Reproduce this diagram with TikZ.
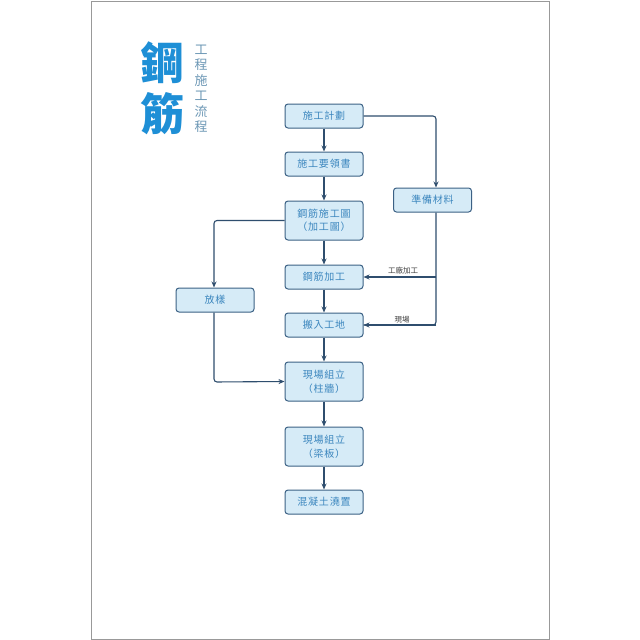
\documentclass[tikz,border=0pt]{standalone}
\usepackage{fontspec}
\setmainfont{Noto Sans CJK TC}
\newfontfamily\cjk{Noto Sans CJK TC}
\newfontfamily\cjkspaced[LetterSpace=8]{Noto Sans CJK TC}
\newfontfamily\cjkbold{Noto Sans CJK TC Black}
\usetikzlibrary{arrows.meta}
\definecolor{boxfill}{HTML}{D6EBF7}
\definecolor{boxline}{HTML}{3C6185}
\definecolor{boxtext}{HTML}{3B86BE}
\definecolor{linec}{HTML}{2F4E6E}
\definecolor{titleblue}{HTML}{1E8FD6}
\definecolor{subblue}{HTML}{6C97B5}
\definecolor{pageline}{HTML}{999999}
\tikzset{
  stepbox/.style={draw=boxline, fill=boxfill, rounded corners=3pt, line width=1pt,
    minimum width=78pt, minimum height=24pt, text=boxtext, font=\cjkspaced\fontsize{10}{13.5}\selectfont,
    align=center, inner sep=1pt},
  tallbox/.style={stepbox, minimum height=39pt},
  conn/.style={draw=linec, line width=1.1pt, -{Stealth[length=6pt,width=5pt]}},
  plain/.style={draw=linec, line width=1.1pt},
  lbl/.style={font=\cjk\fontsize{7.5}{9}\selectfont, text=black!75, inner sep=1pt}
}
\begin{document}
\begin{tikzpicture}[x=1pt,y=-1pt]
\useasboundingbox (0,0) rectangle (640,640);
\fill[white] (0,0) rectangle (640,640);
\draw[pageline, line width=1pt] (91,1) rectangle (549,639);
% title
\node[font=\cjkbold\fontsize{44}{46}\selectfont, text=titleblue, inner sep=0] (t1) at (162,63) {鋼};
\node[font=\cjkbold\fontsize{44}{46}\selectfont, text=titleblue, inner sep=0] (t2) at (162,114) {筋};
\node[font=\cjk\fontsize{13}{15.5}\selectfont, text=subblue, align=center, inner sep=0] (sub) at (201,89) {工\\程\\施\\工\\流\\程};
% boxes
\node[stepbox] (a) at (324,116) {施工計劃};
\node[stepbox] (b) at (324,164) {施工要領書};
\node[tallbox] (c) at (324,220.5) {鋼筋施工圖\\（加工圖）};
\node[stepbox] (m) at (432.5,200) {準備材料};
\node[stepbox] (d) at (324,277) {鋼筋加工};
\node[stepbox] (f) at (215,300) {放樣};
\node[stepbox] (e) at (324,325) {搬入工地};
\node[tallbox] (g) at (324,381.5) {現場組立\\（柱牆）};
\node[tallbox] (h) at (324,446.5) {現場組立\\（梁板）};
\node[stepbox] (i) at (324,502) {混凝土澆置};
% coordinates
\coordinate (mr1) at (436,277);
\coordinate (mr2) at (436,325);
% connectors
\draw[conn] (a) -- (b);
\draw[conn] (b) -- (c);
\draw[conn] (c) -- (d);
\draw[conn] (d) -- (e);
\draw[conn] (e) -- (g);
\draw[conn] (g) -- (h);
\draw[conn] (h) -- (i);
\draw[conn, rounded corners=3pt] (a.east) -- (436,116) -- (m.north -| 436,0);
\draw[plain, rounded corners=3pt] (m.south -| 436,0) -- (mr2) -- (e.east);
\draw[conn] (mr2) -- (e.east);
\draw[conn] (mr1) -- (d.east);
\draw[conn, rounded corners=3pt] (c.west) -- (214,220.5) -- (f.north -| 214,0);
\draw[conn, rounded corners=3pt] (f.south -| 214,0) -- (214,382) -- (g.west);
% labels
\node[lbl] (l1) at (403,271) {工廠加工};
\node[lbl] (l2) at (402,320) {現場};
\end{tikzpicture}
\end{document}
